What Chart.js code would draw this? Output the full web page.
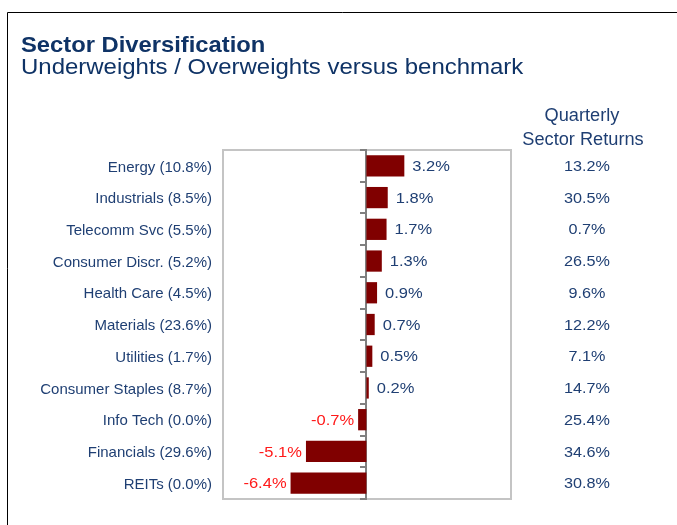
<!DOCTYPE html>
<html>
<head>
<meta charset="utf-8">
<script src="https://cdn.jsdelivr.net/npm/chart.js@4/dist/chart.umd.min.js"></script>
<style>
  html, body { margin: 0; padding: 0; background: #fff; }
  #wrap { width: 677px; height: 525px; position: relative; }
</style>
</head>
<body>
<div id="wrap"><canvas id="sectorChart" width="677" height="525"></canvas></div>
<script>
// sector labels incl. portfolio weight, over/underweight vs benchmark, quarterly returns
const sectors = ['Energy (10.8%)', 'Industrials (8.5%)', 'Telecomm Svc (5.5%)', 'Consumer Discr. (5.2%)',
  'Health Care (4.5%)', 'Materials (23.6%)', 'Utilities (1.7%)', 'Consumer Staples (8.7%)',
  'Info Tech (0.0%)', 'Financials (29.6%)', 'REITs (0.0%)'];
const activeWeights = [3.2, 1.8, 1.7, 1.3, 0.9, 0.7, 0.5, 0.2, -0.7, -5.1, -6.4];
const quarterlyReturns = ['13.2%', '30.5%', '0.7%', '26.5%', '9.6%', '12.2%', '7.1%', '14.7%', '25.4%', '34.6%', '30.8%'];

const NAVY = '#0f3366';
const TEXT_BLUE = '#1f3f73';
const FONT = '"Liberation Sans", Arial, sans-serif';

// text a bit wider than the font, like the original slide rendering
function wideText(ctx, txt, x, y, sx) {
  ctx.save();
  ctx.translate(x, y);
  ctx.scale(sx, 1);
  ctx.fillText(txt, 0, 0);
  ctx.restore();
}

const decorPlugin = {
  id: 'decor',
  beforeDraw(chart) {
    const ctx = chart.ctx;
    const a = chart.chartArea;
    ctx.save();
    // outer frame
    ctx.strokeStyle = '#000';
    ctx.lineWidth = 1;
    ctx.beginPath();
    ctx.moveTo(7.5, 525);
    ctx.lineTo(7.5, 12.5);
    ctx.lineTo(677, 12.5);
    ctx.stroke();
    // plot box
    ctx.strokeStyle = '#c4c4c4';
    ctx.lineWidth = 2;
    ctx.strokeRect(a.left, a.top, a.right - a.left, a.bottom - a.top);
    // titles
    ctx.fillStyle = NAVY;
    ctx.textBaseline = 'alphabetic';
    ctx.textAlign = 'left';
    ctx.font = 'bold 22px ' + FONT;
    wideText(ctx, 'Sector Diversification', 21, 52, 1.08);
    ctx.font = '21.5px ' + FONT;
    wideText(ctx, 'Underweights / Overweights versus benchmark', 21, 74, 1.115);
    ctx.restore();
  },
  afterDatasetsDraw(chart) {
    const ctx = chart.ctx;
    const meta = chart.getDatasetMeta(0);
    const yScale = chart.scales.y;
    ctx.save();
    ctx.font = '15px ' + FONT;
    ctx.textBaseline = 'middle';
    meta.data.forEach((bar, i) => {
      const v = activeWeights[i];
      const txt = v.toFixed(1) + '%';
      if (v >= 0) {
        ctx.fillStyle = TEXT_BLUE;
        ctx.textAlign = 'left';
        wideText(ctx, txt, bar.x + 8, bar.y + 1, 1.1);
      } else {
        ctx.fillStyle = '#ff1a1a';
        ctx.textAlign = 'right';
        wideText(ctx, txt, bar.x - 4, bar.y + 1, 1.1);
      }
    });
    // right column: quarterly returns
    ctx.fillStyle = TEXT_BLUE;
    ctx.textAlign = 'center';
    ctx.textBaseline = 'alphabetic';
    ctx.font = '17.5px ' + FONT;
    wideText(ctx, 'Quarterly', 582, 121, 1.04);
    wideText(ctx, 'Sector Returns', 583, 145, 1.04);
    ctx.textBaseline = 'middle';
    ctx.font = '15px ' + FONT;
    quarterlyReturns.forEach((r, i) => {
      wideText(ctx, r, 587, yScale.getPixelForValue(i) + 1, 1.08);
    });
    ctx.restore();
  }
};

new Chart(document.getElementById('sectorChart'), {
  type: 'bar',
  data: {
    labels: sectors,
    datasets: [{
      data: activeWeights,
      backgroundColor: '#800000',
      borderWidth: 0,
      categoryPercentage: 1,
      barPercentage: 0.67
    }]
  },
  options: {
    indexAxis: 'y',
    responsive: false,
    animation: false,
    layout: { padding: { left: 0, right: 166, top: 150, bottom: 26 } },
    plugins: { legend: { display: false }, tooltip: { enabled: false } },
    scales: {
      x: {
        min: -12.1,
        max: 12.2,
        display: false
      },
      y: {
        grid: { display: false },
        border: { display: false },
        ticks: { color: TEXT_BLUE, font: { family: FONT, size: 15 }, padding: 3, labelOffset: 1.5 },
        afterFit(scale) { scale.width = 223; }
      },
      y2: {
        type: 'category',
        position: { x: 0 },
        grid: { drawOnChartArea: false, tickLength: 5, color: '#808080', lineWidth: 2, offset: true },
        border: { display: true, color: '#808080', width: 2 },
        ticks: { display: false }
      }
    }
  },
  plugins: [decorPlugin]
});
</script>
</body>
</html>
